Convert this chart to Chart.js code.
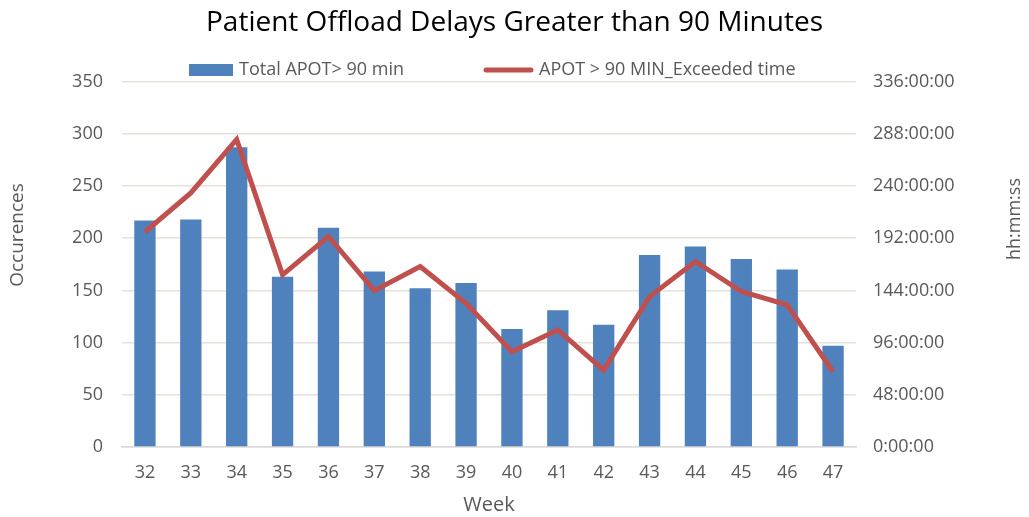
<!DOCTYPE html>
<html><head><meta charset="utf-8">
<script src="https://cdn.jsdelivr.net/npm/chart.js@4.4.1/dist/chart.umd.min.js"></script>
<style>html,body{margin:0;padding:0;background:#fff}#wrap{width:1029px;height:517px}</style>
</head><body><div id="wrap"><canvas id="c" width="1029" height="517"></canvas></div>
<script>
const weeks = ['32','33','34','35','36','37','38','39','40','41','42','43','44','45','46','47'];
const totalApot = [217,218,287,163,210,168,152,157,113,131,117,184,192,180,170,97];
const exceededHours = [197.7,233.6,282.8,158.3,193.6,143.8,166,132.2,87.6,107.6,70.7,138.3,170.6,143,130.7,69.2];
const barLabel = 'Total APOT> 90 min';
const lineLabel = 'APOT > 90 MIN_Exceeded time';

const FONT = "'Open Sans', sans-serif";
const BAR_COLOR = '#4f81bd';
const LINE_COLOR = '#c0504d';
const TEXT_COLOR = '#595959';

const extras = {
  id: 'extras',
  afterDraw(chart) {
    const ctx = chart.ctx;
    // legend
    ctx.save();
    ctx.font = "18px " + FONT;
    ctx.textBaseline = 'middle';
    ctx.textAlign = 'left';
    ctx.fillStyle = BAR_COLOR;
    ctx.fillRect(189, 64, 44, 12);
    ctx.fillStyle = TEXT_COLOR;
    ctx.fillText(barLabel, 239, 70);
    ctx.strokeStyle = LINE_COLOR;
    ctx.lineWidth = 5;
    ctx.lineCap = 'round';
    ctx.beginPath(); ctx.moveTo(486, 70); ctx.lineTo(531, 70); ctx.stroke();
    ctx.fillText(lineLabel, 539, 70);
    ctx.restore();
    // axis titles
    ctx.save();
    ctx.fillStyle = TEXT_COLOR;
    ctx.font = "19px " + FONT;
    ctx.textAlign = 'center';
    ctx.textBaseline = 'middle';
    ctx.translate(18, 235); ctx.rotate(-Math.PI/2); ctx.fillText('Occurences', 0, 0);
    ctx.restore();
    ctx.save();
    ctx.fillStyle = TEXT_COLOR;
    ctx.font = "18px " + FONT;
    ctx.textAlign = 'center';
    ctx.textBaseline = 'middle';
    ctx.translate(1015, 219); ctx.rotate(-Math.PI/2); ctx.fillText('hh:mm:ss', 0, 0);
    ctx.restore();
  }
};

new Chart(document.getElementById('c'), {
  data: {
    labels: weeks,
    datasets: [
      { type: 'line', label: lineLabel, data: exceededHours, yAxisID: 'y1',
        borderColor: LINE_COLOR, backgroundColor: LINE_COLOR, borderWidth: 5,
        pointRadius: 0, tension: 0, order: 0 },
      { type: 'bar', label: barLabel, data: totalApot, yAxisID: 'y',
        backgroundColor: BAR_COLOR, borderWidth: 0,
        categoryPercentage: 1, barPercentage: 0.465, order: 1 }
    ]
  },
  options: {
    responsive: false, animation: false,
    layout: { padding: { left: 40, right: 40, top: 0, bottom: 0 } },
    plugins: {
      title: { display: true, text: 'Patient Offload Delays Greater than 90 Minutes',
        color: '#000', font: { family: FONT, size: 28, weight: 'normal', lineHeight: 1.2 }, padding: { top: 6, bottom: 42 } },
      legend: { display: false },
      tooltip: { enabled: false }
    },
    scales: {
      x: { grid: { display: false, drawTicks: false }, border: { color: '#d9d9d9', width: 1.5 },
        ticks: { color: TEXT_COLOR, font: { family: FONT, size: 18 }, padding: 15 },
        title: { display: true, text: 'Week', color: TEXT_COLOR, font: { family: FONT, size: 20 }, padding: { top: 0, bottom: 0 } },
        afterFit(s) { s.height = 70; } },
      y: { position: 'left', min: 0, max: 350, ticks: { stepSize: 50, color: TEXT_COLOR, font: { family: FONT, size: 18 }, padding: 19 },
        grid: { color: '#e6e2da', lineWidth: 1.5, drawTicks: false }, border: { display: false },
        afterFit(s) { s.width = 82; } },
      y1: { position: 'right', min: 0, max: 336, ticks: { stepSize: 48, color: TEXT_COLOR, font: { family: FONT, size: 18 }, padding: 17,
          callback: v => v + ':00:00' },
        grid: { drawOnChartArea: false, drawTicks: false }, border: { display: false },
        afterFit(s) { s.width = 133; } }
    }
  },
  plugins: [extras]
});
</script></body></html>
